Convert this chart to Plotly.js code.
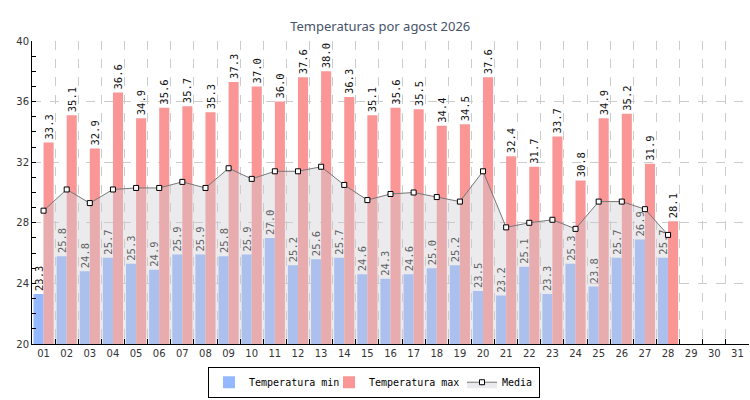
<!DOCTYPE html>
<html>
<head>
<meta charset="utf-8">
<script src="https://cdn.plot.ly/plotly-3.0.1.min.js"></script>
<style>
  body { margin: 0; background: #fff; }
  #myDiv { width: 750px; height: 400px; }
</style>
</head>
<body>
<div id="myDiv"></div>
<script>
// all day labels of the month (x axis)
var dayLabels = ["01","02","03","04","05","06","07","08","09","10","11","12","13","14","15","16",
  "17","18","19","20","21","22","23","24","25","26","27","28","29","30","31"];

// days with data
var days = dayLabels.slice(0, 28);

var tempMin = [23.3, 25.8, 24.8, 25.7, 25.3, 24.9, 25.9, 25.9, 25.8, 25.9, 27.0, 25.2, 25.6, 25.7,
  24.6, 24.3, 24.6, 25.0, 25.2, 23.5, 23.2, 25.1, 23.3, 25.3, 23.8, 25.7, 26.9, 25.7];

var tempMax = [33.3, 35.1, 32.9, 36.6, 34.9, 35.6, 35.7, 35.3, 37.3, 37.0, 36.0, 37.6, 38.0, 36.3,
  35.1, 35.6, 35.5, 34.4, 34.5, 37.6, 32.4, 31.7, 33.7, 30.8, 34.9, 35.2, 31.9, 28.1];

var media = [28.8, 30.2, 29.3, 30.2, 30.3, 30.3, 30.7, 30.3, 31.6, 30.9, 31.4, 31.4, 31.7, 30.5,
  29.5, 29.9, 30.0, 29.7, 29.4, 31.4, 27.7, 28.0, 28.2, 27.6, 29.4, 29.4, 28.9, 27.2];

var labelFont = { family: "DejaVu Sans Mono", size: 10.5, color: "#111" };

var trace1 = {
  x: days,
  y: tempMin,
  name: "Temperatura min",
  type: "bar",
  marker: { color: "#94b8ff" },
  text: tempMin.map(function(v) { return v.toFixed(1); }),
  textposition: "outside",
  textangle: -90,
  constraintext: "none",
  cliponaxis: false,
  textfont: labelFont,
  legendwidth: 75,
  hoverinfo: "x+y"
};

var trace2 = {
  x: days,
  y: tempMax,
  name: "Temperatura max",
  type: "bar",
  marker: { color: "#fa9696" },
  text: tempMax.map(function(v) { return v.toFixed(1); }),
  textposition: "outside",
  textangle: -90,
  constraintext: "none",
  cliponaxis: false,
  textfont: labelFont,
  legendwidth: 88,
  hoverinfo: "x+y"
};

var trace3 = {
  x: days,
  y: media,
  name: "Media",
  type: "scatter",
  mode: "lines+markers",
  fill: "tozeroy",
  fillcolor: "rgba(205,205,210,0.4)",
  line: { color: "#777", width: 1 },
  marker: { symbol: "square", size: 5, color: "#fff", line: { color: "#000", width: 1 } },
  legendwidth: 32
};

var data = [trace1, trace2, trace3];

var layout = {
  width: 750,
  height: 400,
  margin: { l: 32, r: 1, t: 41, b: 56 },
  paper_bgcolor: "#fff",
  plot_bgcolor: "#fff",
  font: { family: "DejaVu Sans", size: 10, color: "#333" },
  title: {
    text: "Temperaturas por agost 2026",
    font: { family: "Noto Sans", size: 13, color: "#46536a" },
    x: 0.507,
    xanchor: "center",
    y: 0.935,
    yanchor: "middle"
  },
  barmode: "group",
  bargap: 0.13,
  bargroupgap: 0,
  showlegend: true,
  legend: {
    orientation: "h",
    x: 0.477,
    xanchor: "center",
    y: -0.075,
    yanchor: "top",
    bordercolor: "#000",
    borderwidth: 1,
    font: { family: "DejaVu Sans Mono", size: 10, color: "#000" },
    itemwidth: 30,
    tracegroupgap: 0
  },
  xaxis: {
    type: "category",
    categoryorder: "array",
    categoryarray: dayLabels,
    range: [-0.5, 30.5],
    tickson: "boundaries",
    ticks: "inside",
    ticklen: 5,
    tickcolor: "#000",
    showline: true,
    linecolor: "#000",
    linewidth: 1,
    showgrid: true,
    gridcolor: "#cccccc",
    griddash: "dash",
    zeroline: false,
    tickfont: { family: "DejaVu Sans", size: 10, color: "#333" },
    fixedrange: true
  },
  yaxis: {
    range: [20, 40],
    dtick: 4,
    tick0: 20,
    ticks: "inside",
    ticklen: 4,
    tickcolor: "#000",
    minor: { dtick: 1, ticks: "inside", ticklen: 4, tickcolor: "#000", showgrid: false },
    showline: true,
    linecolor: "#000",
    linewidth: 1,
    showgrid: true,
    gridcolor: "#cccccc",
    griddash: "dash",
    zeroline: false,
    tickfont: { family: "DejaVu Sans", size: 10, color: "#333" },
    fixedrange: true
  }
};

Plotly.newPlot("myDiv", data, layout, { displayModeBar: false, staticPlot: true });
</script>
</body>
</html>
